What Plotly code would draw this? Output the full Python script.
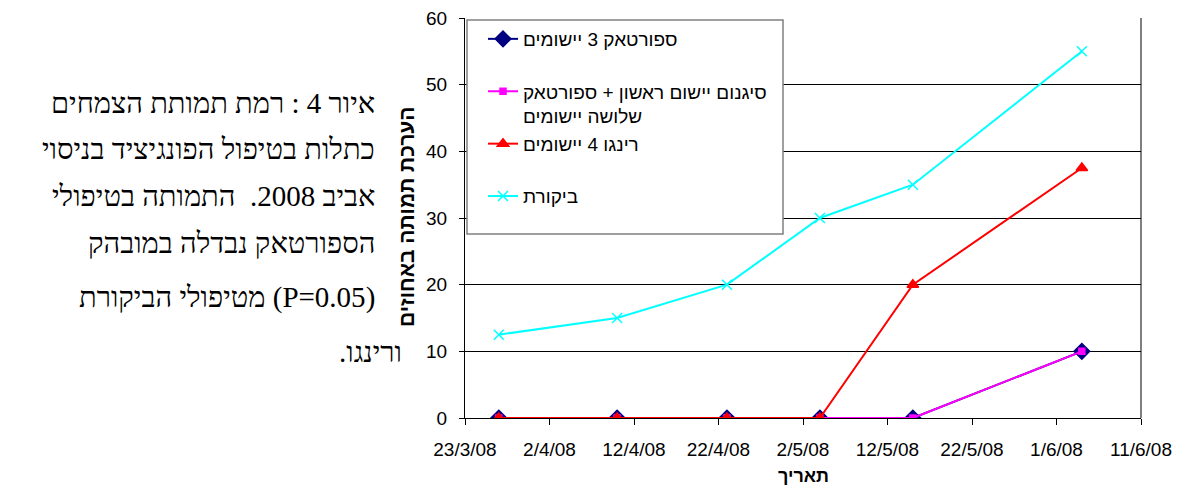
import plotly.graph_objects as go

# ---------------- data ----------------
dates = ["2008-03-27", "2008-04-10", "2008-04-23", "2008-05-04", "2008-05-15", "2008-06-04"]
spurtak = [0, 0, 0, 0, 0, 10]
signum = [0, 0, 0, 0, 0, 10]
ringo = [0, 0, 0, 0, 20, 37.5]
control = [12.5, 15, 20, 30, 35, 55]

series_names = [
    "ספורטאק 3 יישומים",
    "סיגנום יישום ראשון + ספורטאק<br>שלושה יישומים",
    "רינגו 4 יישומים",
    "ביקורת",
]
y_title = "הערכת תמותה באחוזים"
x_title = "תאריך"
caption_lines = [
    "איור 4 : רמת תמותת הצמחים",
    "כתלות בטיפול הפונגיציד בניסוי",
    "אביב 2008.  התמותה בטיפולי",
    "הספורטאק נבדלה במובהק",
    "(P=0.05) מטיפולי הביקורת",
    "ורינגו.",
]

RLE, PDF = "\u202B", "\u202C"


def rtl(s):
    return "<br>".join(RLE + part + PDF for part in s.split("<br>"))


SANS = "Liberation Sans, Arial, DejaVu Sans, sans-serif"
SERIF = "Liberation Serif, Times New Roman, DejaVu Serif, serif"

# page body has an 8px margin; figure is sized so the page is 1181x486
OFF = 8
W, H = 1181 - OFF, 486 - OFF
PX0, PX1, PY0, PY1 = 465, 1141, 18, 418   # plot area in page pixels
L, R = PX0 - OFF, 1181 - PX1
T, B = PY0 - OFF, 486 - PY1
PW, PH = PX1 - PX0, PY1 - PY0


def px_x(x):
    return (x - PX0) / PW


def px_y(y):
    return (PY1 - y) / PH


fig = go.Figure()

styles = [
    dict(color="#000080", symbol="diamond", size=12, mcolor="#000080", mline="#000080"),
    dict(color="#FF00FF", symbol="square", size=6, mcolor="#FF00FF", mline="#FF00FF"),
    dict(color="#FF0000", symbol="triangle-up", size=10, mcolor="#FF0000", mline="#FF0000"),
    dict(color="#00FFFF", symbol="x-thin", size=10, mcolor="#00FFFF", mline="#00FFFF"),
]
values = [spurtak, signum, ringo, control]

for i, (name, vals, st) in enumerate(zip(series_names, values, styles)):
    label = rtl(name)
    if "<br>" not in name:
        label = label + "<br>\u00a0"
    fig.add_trace(go.Scatter(
        x=dates, y=vals, name=label, mode="lines+markers",
        line=dict(color=st["color"], width=2),
        marker=dict(symbol=st["symbol"], size=st["size"], color=st["mcolor"],
                    line=dict(color=st["mline"], width=1.5)),
    ))

# legend box
fig.add_shape(type="rect", xref="paper", yref="paper",
              x0=px_x(467), x1=px_x(783), y0=px_y(234), y1=px_y(20),
              fillcolor="white", line=dict(color="#808080", width=1.5), layer="above")
# right plot border (gray)
fig.add_shape(type="line", xref="paper", yref="paper",
              x0=1, x1=1, y0=0, y1=1, line=dict(color="#808080", width=2), layer="below")

annotations = []
annotations.append(dict(text="<b>" + rtl(y_title) + "</b>", xref="paper", yref="paper",
                        x=px_x(406), y=px_y(217), textangle=-90, showarrow=False,
                        font=dict(family=SANS, size=21, color="black"),
                        xanchor="center", yanchor="middle"))
annotations.append(dict(text="<b>" + rtl(x_title) + "</b>", xref="paper", yref="paper",
                        x=px_x(803), y=px_y(476), showarrow=False,
                        font=dict(family=SANS, size=18, color="black"),
                        xanchor="center", yanchor="middle"))
line_y = [103, 149, 196, 243, 297, 352]
line_right = [377, 377, 377, 377, 377, 404]
for txt, yy, xr in zip(caption_lines, line_y, line_right):
    annotations.append(dict(text=rtl(txt), xref="paper", yref="paper",
                            x=px_x(xr), y=px_y(yy), showarrow=False,
                            font=dict(family=SERIF, size=29, color="black"),
                            xanchor="right", yanchor="middle"))

fig.update_layout(
    width=W, height=H,
    margin=dict(l=L, r=R, t=T, b=B, autoexpand=False),
    paper_bgcolor="white", plot_bgcolor="white",
    showlegend=True,
    legend=dict(x=px_x(483), y=px_y(20), xanchor="left", yanchor="top",
                bgcolor="rgba(0,0,0,0)", borderwidth=0,
                font=dict(family=SANS, size=19, color="black"),
                valign="top", traceorder="normal"),
    annotations=annotations,
    xaxis=dict(type="date", range=["2008-03-23", "2008-06-11"],
               tick0="2008-03-23", dtick=864000000, tickformat="%-d/%-m/%y",
               showgrid=False, showline=True, linecolor="black", linewidth=1,
               ticks="outside", ticklen=6, tickcolor="black", ticklabelstandoff=8,
               ticklabeloverflow="allow", automargin=False,
               tickfont=dict(family=SANS, size=19, color="black"), zeroline=False),
    yaxis=dict(range=[0, 60], dtick=10, showgrid=True, gridcolor="black", gridwidth=1,
               showline=True, linecolor="black", linewidth=1, mirror=False,
               ticks="outside", ticklen=5, tickcolor="black", ticklabelstandoff=8,
               ticklabeloverflow="allow", automargin=False,
               tickfont=dict(family=SANS, size=19, color="black"), zeroline=False),
)

fig.write_html("out.html")
